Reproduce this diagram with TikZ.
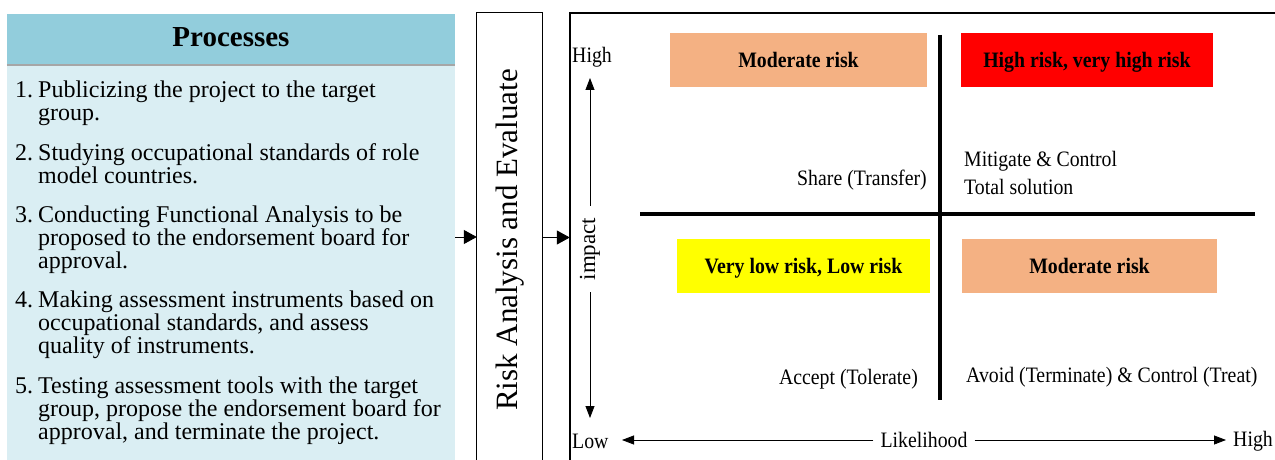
\documentclass[tikz,border=0pt]{standalone}
\usepackage{fontspec}
\setmainfont{Liberation Serif}
\newfontfamily\nserif[FakeStretch=0.9]{Liberation Serif}
\usetikzlibrary{arrows.meta}
\definecolor{hdrblue}{HTML}{92CDDC}
\definecolor{bodyblue}{HTML}{DAEEF3}
\definecolor{peach}{HTML}{F4B183}
\definecolor{riskred}{HTML}{FF0000}
\definecolor{risky}{HTML}{FFFF00}
\newcommand{\proclist}[3]{\makebox[23pt][l]{#1}\parbox[t]{#2}{#3}}
\begin{document}
\begin{tikzpicture}[x=1pt,y=-1pt,
  itemtxt/.style={anchor=base west, inner sep=0pt, font=\fontsize{24}{23}\selectfont},
  riskbox/.style={minimum width=#1, minimum height=54pt, inner sep=0pt, text height=14pt, text depth=0pt, font=\nserif\fontsize{22}{24}\selectfont\bfseries},
  mtext/.style={inner sep=0pt, font=\nserif\fontsize{22}{28}\selectfont},
  bigarrow/.style={line width=1pt, -{Triangle[length=13pt,width=14pt]}},
  axisarrow/.style={line width=0.8pt, -{Triangle[length=12pt,width=9pt]}},
  thickline/.style={line width=4pt}]
\useasboundingbox (0,0) rectangle (1275,460);
\fill[white] (0,0) rectangle (1275,460);
% Processes box
\node[fill=bodyblue, minimum width=448pt, minimum height=446pt, inner sep=0pt] (procbox) at (231,237) {};
\node[fill=hdrblue, minimum width=448pt, minimum height=51pt, inner sep=0pt, anchor=north] (prochead) at (procbox.north) {};
\draw[black!35, line width=2.5pt] (prochead.south west) -- (prochead.south east);
\node[font=\fontsize{29}{30}\selectfont\bfseries, inner sep=0pt] (proctitle) at (231,37) {Processes};
\node[itemtxt] (it1) at (15,97) {\proclist{1.}{420pt}{Publicizing the project to the target\\group.}};
\node[itemtxt] (it2) at (15,160) {\proclist{2.}{420pt}{Studying occupational standards of role\\model countries.}};
\node[itemtxt] (it3) at (15,222) {\proclist{3.}{420pt}{Conducting Functional Analysis to be\\proposed to the endorsement board for\\approval.}};
\node[itemtxt] (it4) at (15,307) {\proclist{4.}{420pt}{Making assessment instruments based on\\occupational standards, and assess\\quality of instruments.}};
\node[itemtxt] (it5) at (15,393) {\proclist{5.}{420pt}{Testing assessment tools with the target\\group, propose the endorsement board for\\approval, and terminate the project.}};
% Risk analysis box
\node[minimum width=65pt, minimum height=449pt, inner sep=0pt] (rabox) at (509.5,237.5) {};
\draw[line width=1.2pt] (rabox.south west) -- (rabox.north west) -- (rabox.north east) -- (rabox.south east);
\node[rotate=90, inner sep=0pt, text height=21pt, text depth=0pt, font=\fontsize{31}{32}\selectfont] (ratext) at (507,240) {Risk Analysis and Evaluate};
% Matrix box
\node[minimum width=712pt, minimum height=449pt, inner sep=0pt] (mbox) at (926,237.5) {};
\draw[line width=1.5pt] (mbox.south west) -- (mbox.north west) -- (mbox.north east);
% connectors between boxes
\draw[bigarrow] (procbox.east) -- (procbox.east -| rabox.west);
\draw[bigarrow] (rabox.east) -- (rabox.east -| mbox.west);
% impact axis
\node[mtext, anchor=west] (hiY) at (572,57) {High};
\node[mtext, anchor=west] (loY) at (572,441) {Low};
\node[rotate=90, inner xsep=12pt, inner ysep=1pt, font=\fontsize{23}{24}\selectfont] (impact) at (590,249) {impact};
\coordinate (impTop) at (590,78);
\coordinate (impBot) at (590,418);
\draw[axisarrow] (impact.east) -- (impTop);
\draw[axisarrow] (impact.west) -- (impBot);
% likelihood axis
\node[mtext, inner xsep=7pt] (lik) at (924,440) {Likelihood};
\node[mtext, anchor=west] (hiX) at (1233,441) {High};
\coordinate (likL) at (622,440);
\coordinate (likR) at (1226,440);
\draw[axisarrow] (lik.west) -- (likL);
\draw[axisarrow] (lik.east) -- (likR);
% quadrant cross
\coordinate (vT) at (940,35);
\coordinate (vB) at (940,400);
\coordinate (hL) at (640,214);
\coordinate (hR) at (1255,214);
\draw[thickline] (vT) -- (vB);
\draw[thickline] (hL) -- (hR);
% risk boxes
\node[riskbox=257pt, fill=peach] (modTop) at (798.5,60) {Moderate risk};
\node[riskbox=252pt, fill=riskred] (highR) at (1087,60) {High risk, very high risk};
\node[riskbox=253pt, fill=risky] (lowR) at (803.5,266) {Very low risk, Low risk};
\node[riskbox=255pt, fill=peach] (modBot) at (1089.5,266) {Moderate risk};
% responses
\node[mtext, anchor=base east] (share) at (927,185) {Share (Transfer)};
\node[mtext, anchor=base west] (mitig) at (964,166) {Mitigate \& Control};
\node[mtext, anchor=base west] (total) at (964,194) {Total solution};
\node[mtext, anchor=base east] (accept) at (918,384) {Accept (Tolerate)};
\node[mtext, anchor=base west] (avoid) at (966,382) {Avoid (Terminate) \& Control (Treat)};
\end{tikzpicture}
\end{document}
